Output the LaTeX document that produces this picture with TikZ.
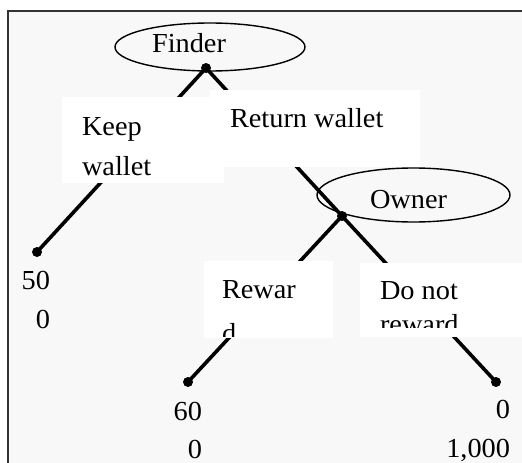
\documentclass[tikz,border=0pt]{standalone}
\usepackage{fontspec}
\setmainfont{Liberation Serif}[FakeStretch=1.03]
\usetikzlibrary{shapes.geometric}
\definecolor{bgc}{HTML}{F8F8F8}
\definecolor{framec}{HTML}{333333}
\begin{document}
\begin{tikzpicture}[x=1pt,y=-1pt,
  txt/.style={inner sep=0pt,outer sep=0pt,font=\fontsize{27.5}{38}\selectfont,text=black},
  pay/.style={txt,anchor=base east,text depth=0pt},
  dotn/.style={circle,fill=black,inner sep=0pt,minimum size=10pt},
  branch/.style={line width=3.6pt,black},
  player/.style={draw=black,line width=1.4pt,ellipse,inner sep=0pt},
  wbox/.style={fill=white,draw=none,inner sep=0pt,anchor=north west}]
\useasboundingbox (0,0) rectangle (522,463);
% background and frame
\fill[bgc] (7,10) rectangle (522,463);
\draw[framec,line width=2pt] (7.5,463) -- (7.5,10.5) -- (522,10.5);
% decision nodes and leaves
\node[dotn] (f) at (206,68) {};
\node[dotn] (o) at (342,216) {};
\node[dotn] (l1) at (37,252) {};
\node[dotn] (l2) at (188,382) {};
\node[dotn] (l3) at (496,382) {};
\draw[branch] (f.center) -- (l1.center);
\draw[branch] (f.center) -- (o.center);
\draw[branch] (o.center) -- (l2.center);
\draw[branch] (o.center) -- (l3.center);
% player ellipses
\node[player,minimum width=190pt,minimum height=48pt] (fe) at (210,47) {};
\node[player,minimum width=193pt,minimum height=54pt] (oe) at (413.5,195) {};
\node[txt,anchor=base west] (ft) at (152,52) {Finder};
\node[txt,anchor=base west] (ot) at (370,208) {Owner};
% white label boxes
\node[wbox,minimum width=162pt,minimum height=86pt] (kb) at (62,97) {};
\node[wbox,minimum width=210pt,minimum height=77pt] (rb) at (210,90) {};
\node[wbox,minimum width=129pt,minimum height=77pt] (wb) at (204,261) {};
\node[wbox,minimum width=162pt,minimum height=74pt] (nb) at (360,263) {};
\node[txt,anchor=base west] (k1) at (82,135) {Keep};
\node[txt,anchor=base west] (k2) at (82,175) {wallet};
\node[txt,anchor=base west] (r1) at (230,127) {Return wallet};
\node[txt,anchor=base west] (w1) at (222,298) {Rewar};
\node[txt,anchor=base west] (n1) at (380,299) {Do not};
\begin{scope}
\clip (wb.north west) rectangle (wb.east |- 0,336);
\node[txt,anchor=base west] (w2) at (222,342) {d};
\end{scope}
\begin{scope}
\clip (nb.north west) rectangle (nb.east |- 0,327);
\node[txt,anchor=base west] (n2) at (380,333) {reward};
\end{scope}
% payoffs
\node[pay] (p1a) at (50,289) {50};
\node[pay] (p1b) at (50,328) {0};
\node[pay] (p2a) at (202,420) {60};
\node[pay] (p2b) at (202,458) {0};
\node[pay] (p3a) at (510,418) {0};
\node[pay] (p3b) at (510,457) {1,000};
\end{tikzpicture}
\end{document}
